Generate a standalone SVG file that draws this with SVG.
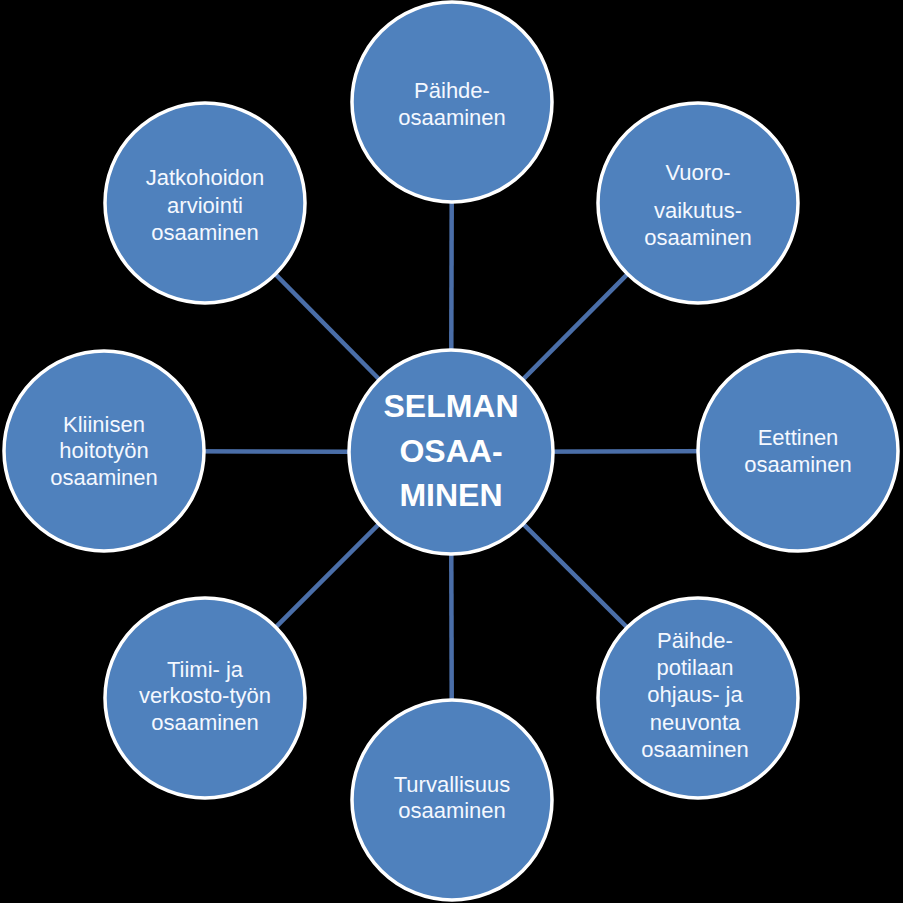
<svg xmlns="http://www.w3.org/2000/svg" width="903" height="903" viewBox="0 0 903 903">
<style>
.bg{fill:#000}
.c{fill:#4f81bd;stroke:#fff;stroke-width:3.5}
.l{stroke:#4a6ea8;stroke-width:4.5;fill:none}
.t{fill:#f4f8ff;font-family:"Liberation Sans",Arial,sans-serif;font-size:22px;text-anchor:middle}
.b{fill:#fff;font-family:"Liberation Sans",Arial,sans-serif;font-size:32px;font-weight:bold;text-anchor:middle}
</style>
<rect class="bg" x="0" y="0" width="903" height="903"/>
<g id="connectors">
<line class="l" x1="451" y1="452" x2="452" y2="102"/>
<line class="l" x1="451" y1="452" x2="698" y2="203"/>
<line class="l" x1="451" y1="452" x2="798" y2="451"/>
<line class="l" x1="451" y1="452" x2="698" y2="698"/>
<line class="l" x1="451" y1="452" x2="452" y2="800"/>
<line class="l" x1="451" y1="452" x2="205" y2="698"/>
<line class="l" x1="451" y1="452" x2="104" y2="451"/>
<line class="l" x1="451" y1="452" x2="205" y2="203"/>
</g>
<g id="center">
<circle class="c" cx="451" cy="452" r="102"/>
<text class="b" x="451" y="417">SELMAN</text>
<text class="b" x="451" y="462">OSAA-</text>
<text class="b" x="451" y="506">MINEN</text>
</g>
<g id="paihde">
<circle class="c" cx="452" cy="102" r="100"/>
<text class="t" x="452" y="98">Päihde-</text>
<text class="t" x="452" y="125">osaaminen</text>
</g>
<g id="vuorovaikutus">
<circle class="c" cx="698" cy="203" r="100"/>
<text class="t" x="698" y="180">Vuoro-</text>
<text class="t" x="698" y="218">vaikutus-</text>
<text class="t" x="698" y="245">osaaminen</text>
</g>
<g id="eettinen">
<circle class="c" cx="798" cy="451" r="100"/>
<text class="t" x="798" y="445">Eettinen</text>
<text class="t" x="798" y="472">osaaminen</text>
</g>
<g id="potilaan">
<circle class="c" cx="698" cy="698" r="100"/>
<text class="t" x="695" y="648">Päihde-</text>
<text class="t" x="695" y="675">potilaan</text>
<text class="t" x="695" y="702">ohjaus- ja</text>
<text class="t" x="695" y="730">neuvonta</text>
<text class="t" x="695" y="757">osaaminen</text>
</g>
<g id="turvallisuus">
<circle class="c" cx="452" cy="800" r="100"/>
<text class="t" x="452" y="792">Turvallisuus</text>
<text class="t" x="452" y="818">osaaminen</text>
</g>
<g id="tiimi">
<circle class="c" cx="205" cy="698" r="100"/>
<text class="t" x="205" y="677">Tiimi- ja</text>
<text class="t" x="205" y="703">verkosto-työn</text>
<text class="t" x="205" y="730">osaaminen</text>
</g>
<g id="kliininen">
<circle class="c" cx="104" cy="451" r="100"/>
<text class="t" x="104" y="432">Kliinisen</text>
<text class="t" x="104" y="458">hoitotyön</text>
<text class="t" x="104" y="485">osaaminen</text>
</g>
<g id="jatkohoidon">
<circle class="c" cx="205" cy="203" r="100"/>
<text class="t" x="205" y="185">Jatkohoidon</text>
<text class="t" x="205" y="213">arviointi</text>
<text class="t" x="205" y="240">osaaminen</text>
</g>
</svg>
